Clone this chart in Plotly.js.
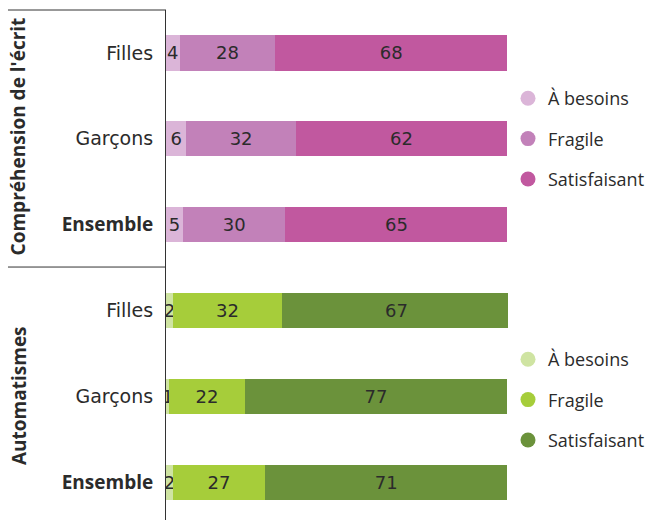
<!DOCTYPE html>
<html><head><meta charset="utf-8">
<script src="https://cdn.plot.ly/plotly-3.0.1.min.js"></script>
<style>html,body{margin:0;padding:0;background:#fff}</style>
</head><body><div id="chart" style="width:648px;height:520px"></div>
<script>
const catKeys = ['L-F','L-G','L-E','A-F','A-G','A-E'];
const ensembleLabel = '<span style="font-family:Open Sans"><b>Ensemble</b></span>';
const catLabels = ['Filles','Garçons',ensembleLabel,'Filles','Garçons',ensembleLabel];
const lectureCats = ['L-F','L-G','L-E'];
const autoCats = ['A-F','A-G','A-E'];
const levels = ['À besoins','Fragile','Satisfaisant'];
const lectureBesoins = [4,6,5];
const lectureFragile = [28,32,30];
const lectureSatisf = [68,62,65];
const autoBesoins = [2,1,2];
const autoFragile = [32,22,27];
const autoSatisf = [67,77,71];
const pinkColors = ['#dbb5d8','#c281b9','#c1589f'];
const greenColors = ['#cfe4a2','#a6cd3a','#6b923b'];
const groupTitles = ["Compréhension de l'écrit","Automatismes"];

const FONT = 'DejaVu Sans, sans-serif';
const TFONT = 'Open Sans, sans-serif';
const TXT = '#2b2b2b';
const traces = [];
function addGroup(cats, series, colors, legendId){
  series.forEach((vals,i)=>{
    traces.push({type:'bar',orientation:'h',y:cats,x:vals,name:levels[i],
      marker:{color:colors[i],line:{width:0}},text:vals.map(String),
      textposition:'inside',insidetextanchor:'middle',constraintext:'none',
      textfont:{family:FONT,size:18,color:TXT},showlegend:false,hoverinfo:'x+name'});
  });
  series.forEach((vals,i)=>{
    traces.push({type:'scatter',mode:'markers',x:[null],y:[null],name:levels[i],
      marker:{color:colors[i],size:15,symbol:'circle'},legend:legendId,
      legendgroup:legendId+i,showlegend:true});
  });
}
addGroup(lectureCats,[lectureBesoins,lectureFragile,lectureSatisf],pinkColors,'legend');
addGroup(autoCats,[autoBesoins,autoFragile,autoSatisf],greenColors,'legend2');

const legendBase = {xref:'container',yref:'container',xanchor:'left',yanchor:'middle',
  font:{family:TFONT,size:18,color:TXT},
  traceorder:'grouped',tracegroupgap:14,itemwidth:30,bgcolor:'rgba(0,0,0,0)'};

const layout = {
  width:648,height:520,margin:{l:166,r:140,t:10,b:0},
  paper_bgcolor:'#fff',plot_bgcolor:'#fff',barmode:'stack',bargap:0.59,
  font:{family:FONT,color:TXT},
  xaxis:{range:[0,100.2],visible:false,fixedrange:true},
  yaxis:{type:'category',categoryorder:'array',categoryarray:catKeys,
    tickvals:catKeys,ticktext:catLabels,range:[5.44,-0.5],
    showline:true,linecolor:'#333',linewidth:1,showgrid:false,zeroline:false,
    ticks:'outside',ticklen:8,tickcolor:'rgba(0,0,0,0)',
    tickfont:{family:FONT,size:19,color:TXT}},
  uniformtext:{mode:'show',minsize:18},
  legend:Object.assign({x:508/648,y:1-139/520},legendBase),
  legend2:Object.assign({x:508/648,y:1-400/520},legendBase),
  shapes:[
    {type:'line',xref:'paper',yref:'paper',x0:-0.462,x1:0,y0:1,y1:1,line:{color:'#333',width:1}},
    {type:'line',xref:'paper',yref:'paper',x0:-0.462,x1:0,y0:0.496,y1:0.496,line:{color:'#333',width:1}}
  ],
  annotations:[
    {text:'<b>'+groupTitles[0]+'</b>',xref:'paper',yref:'paper',x:-0.43,y:0.752,textangle:-90,
     showarrow:false,font:{family:TFONT,size:19,color:TXT},xanchor:'center',yanchor:'middle'},
    {text:'<b>'+groupTitles[1]+'</b>',xref:'paper',yref:'paper',x:-0.43,y:0.245,textangle:-90,
     showarrow:false,font:{family:TFONT,size:19,color:TXT},xanchor:'center',yanchor:'middle'}
  ]
};
Plotly.newPlot('chart',traces,layout,{displayModeBar:false,staticPlot:true});
</script></body></html>
